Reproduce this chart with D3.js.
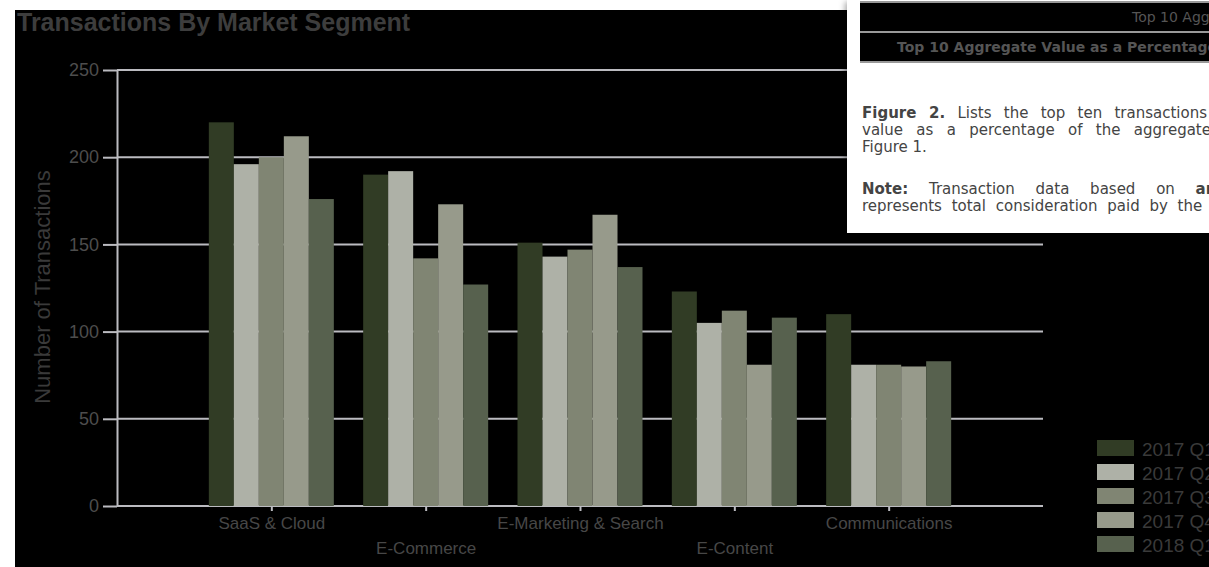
<!DOCTYPE html>
<html>
<head>
<meta charset="utf-8">
<script src="https://cdn.jsdelivr.net/npm/d3@7"></script>
<style>
  html, body { margin: 0; padding: 0; background: #fff; overflow: hidden; }
  #wrap { position: relative; width: 1209px; height: 567px; overflow: hidden; }
  svg { position: absolute; left: 0; top: 0; }
  #panel { position: absolute; left: 847px; top: 0; width: 400px; height: 233px; background: #fff;
           box-shadow: -2px 2px 6px rgba(0,0,0,0.35); font-family: "DejaVu Sans", Verdana, sans-serif; color: #444; }
  #panel .tbl { position: absolute; left: 13px; top: 1px; width: 400px; height: 62px; background: #999; }
  #panel .row { position: absolute; left: 0; width: 400px; height: 28px; background: #000; }
  #panel .t { position: absolute; white-space: nowrap; line-height: 17px; }
</style>
</head>
<body>
<div id="wrap">
  <svg id="chart" width="1209" height="567"></svg>
  <div id="panel">
    <div class="tbl">
      <div class="row" style="top:2px"></div>
      <div class="row" style="top:32px"></div>
    </div>
    <span class="t" style="left:285px;top:9px;font-size:14px;color:#555">Top 10 Aggregate Value</span>
    <span class="t" style="left:50px;top:39px;font-size:14px;font-weight:bold;color:#555">Top 10 Aggregate Value as a Percentage</span>
    <span class="t" style="left:15px;top:105px;font-size:15px;word-spacing:7.5px"><b>Figure 2.</b> Lists the top ten transactions by</span>
    <span class="t" style="left:15px;top:122px;font-size:15px;word-spacing:8.6px">value as a percentage of the aggregate</span>
    <span class="t" style="left:15px;top:139px;font-size:15px">Figure 1.</span>
    <span class="t" style="left:15px;top:181px;font-size:15px;word-spacing:16px"><b>Note:</b> Transaction data based on <b>announced</b></span>
    <span class="t" style="left:15px;top:198px;font-size:15px;word-spacing:5px">represents total consideration paid by the</span>
  </div>
</div>
<script>
// chart data
const categories = ["SaaS & Cloud", "E-Commerce", "E-Marketing & Search", "E-Content", "Communications"];
const seriesNames = ["2017 Q1", "2017 Q2", "2017 Q3", "2017 Q4", "2018 Q1"];
const q1_2017 = [220, 190, 151, 123, 110];
const q2_2017 = [196, 192, 143, 105, 81];
const q3_2017 = [200, 142, 147, 112, 81];
const q4_2017 = [212, 173, 167, 81, 80];
const q1_2018 = [176, 127, 137, 108, 83];
const yTicks = [0, 50, 100, 150, 200, 250];

const seriesValues = [q1_2017, q2_2017, q3_2017, q4_2017, q1_2018];
const colors = ["#313c25", "#aeb1a7", "#808573", "#979a8b", "#57614e"];

var svg = d3.select("#chart");
var plotLeft = 117, plotRight = 1043, plotTop = 70, plotBottom = 506;
var font = "'Liberation Sans', Arial, sans-serif";

// black background, leaving white strip on the left and top
svg.append("rect").attr("x", 15).attr("y", 10).attr("width", 1209).attr("height", 567).attr("fill", "#000");

var x0 = d3.scalePoint().domain(categories).range([plotLeft, plotRight]).padding(1);
var x1 = d3.scaleBand().domain(seriesNames).range([-62.5, 62.5]);
var y = d3.scaleLinear().domain([0, 250]).range([plotBottom, plotTop]);

// gridlines
svg.append("g").selectAll("line").data(yTicks).enter().append("line")
  .attr("x1", plotLeft).attr("x2", plotRight)
  .attr("y1", (d) => y(d)).attr("y2", (d) => y(d))
  .attr("stroke", "#bbbbc0").attr("stroke-width", 2);

// bars
var groups = svg.append("g").selectAll("g").data(categories).enter().append("g")
  .attr("transform", (d) => "translate(" + x0(d) + ",0)");

groups.selectAll("rect")
  .data((d, i) => seriesNames.map((s, j) => ({ s: s, v: seriesValues[j][i], c: colors[j] })))
  .enter().append("rect")
  .attr("x", (d) => x1(d.s))
  .attr("width", x1.bandwidth())
  .attr("y", (d) => y(d.v))
  .attr("height", (d) => plotBottom - y(d.v))
  .attr("fill", (d) => d.c);

// y axis
var yAxis = svg.append("g").attr("transform", "translate(" + plotLeft + ",0)")
  .call(d3.axisLeft(y).tickValues(yTicks).tickSize(14).tickSizeOuter(0).tickPadding(4));
yAxis.select(".domain").attr("stroke", "#bbbbc0").attr("stroke-width", 2);
yAxis.selectAll(".tick line").attr("stroke", "#bbbbc0").attr("stroke-width", 2);
yAxis.selectAll(".tick text")
  .attr("fill", "#4d4d4d").style("font-family", font).style("font-size", "18px");

// x axis
var xAxis = svg.append("g").attr("transform", "translate(0," + (plotBottom + 1) + ")")
  .call(d3.axisBottom(x0).tickSize(4).tickSizeOuter(0));
xAxis.select(".domain").remove();
xAxis.selectAll(".tick line").attr("stroke", "#bbbbc0").attr("stroke-width", 2);
xAxis.selectAll(".tick text")
  .attr("y", (d, i) => (i % 2 == 0 ? 22 : 47))
  .attr("dy", null)
  .attr("fill", "#474747")
  .style("font-family", font).style("font-size", "17px");

// title
svg.append("text").attr("x", 17).attr("y", 31)
  .attr("fill", "#3d3d3d")
  .style("font-family", font).style("font-size", "25px").style("font-weight", "bold")
  .text("Transactions By Market Segment");

// y label
svg.append("text")
  .attr("transform", "translate(50,287) rotate(-90)")
  .style("text-anchor", "middle")
  .attr("fill", "#3a3a3a")
  .style("font-family", font).style("font-size", "22px")
  .text("Number of Transactions");

// legend
var legend = svg.append("g").selectAll("g").data(seriesNames).enter().append("g")
  .attr("transform", (d, i) => "translate(1097," + (440 + i * 24) + ")");
legend.append("rect").attr("width", 37).attr("height", 16).attr("fill", (d, i) => colors[i]);
legend.append("text").attr("x", 45).attr("y", 16)
  .attr("fill", "#3a3a3a")
  .style("font-family", font).style("font-size", "19px")
  .text((d) => d);
</script>
</body>
</html>
